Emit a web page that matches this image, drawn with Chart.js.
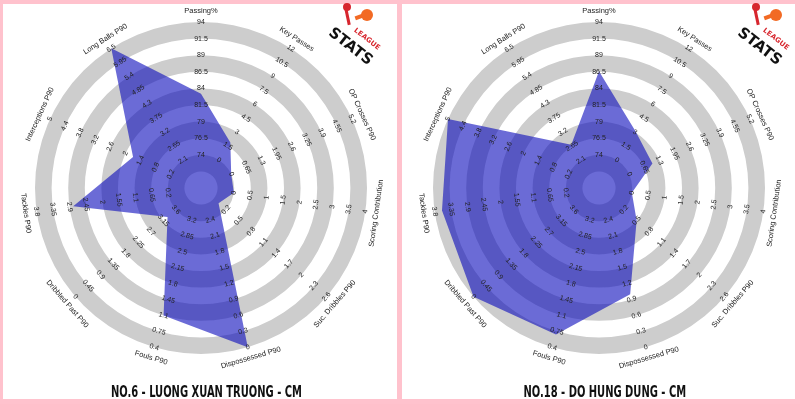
<!DOCTYPE html>
<html>
<head>
<meta charset="utf-8">
<script src="https://cdn.jsdelivr.net/npm/chart.js@4.4.1/dist/chart.umd.min.js"></script>
<style>
  body { margin: 0; width: 800px; height: 404px; background: #ffc2cd; position: relative; overflow: hidden; }
  .panel { position: absolute; top: 4px; height: 395px; background: #fff; }
  canvas { position: absolute; top: 0; }
  .title { position: absolute; top: 382px; width: 400px; text-align: center; color: #111;
           font: bold 16px 'Liberation Sans Narrow', 'DejaVu Sans Condensed', sans-serif; }
  .title span { display: inline-block; transform: scaleX(0.69); }
  .logo { position: absolute; top: 0; width: 70px; height: 70px; }
  .logo div { position: absolute; }
  .dot { left: 23px; top: 3px; width: 8px; height: 8px; border-radius: 50%; background: #d7262e; }
  .stick { left: 26px; top: 8px; width: 3px; height: 17px; background: #d7262e; transform: rotate(-12deg); }
  .ball { left: 41px; top: 9px; width: 12px; height: 12px; border-radius: 50%; background: #f26a24; }
  .tail { left: 35px; top: 15px; width: 8px; height: 4px; background: #f26a24; transform: rotate(-20deg); }
  .txt { transform: translate(-50%, -50%) rotate(38deg); white-space: nowrap; }
  .league { left: 47px; top: 39px; color: #d7262e; font: bold 7px 'DejaVu Sans', sans-serif; }
  .stats { left: 31px; top: 46px; color: #111; font: bold 15px 'DejaVu Sans', sans-serif; }
</style>
</head>
<body>
<div class="panel" style="left:3px; width:394px"></div>
<div class="panel" style="left:402px; width:393px"></div>
<canvas id="truongChart" width="400" height="404" style="left:0"></canvas>
<canvas id="dungChart" width="400" height="404" style="left:400px"></canvas>
<div class="title" style="left:6px"><span>NO.6 - LUONG XUAN TRUONG - CM</span></div>
<div class="title" style="left:405px"><span>NO.18 - DO HUNG DUNG - CM</span></div>
<div class="logo" style="left:320px"><div class="dot"></div><div class="stick"></div><div class="tail"></div><div class="ball"></div><div class="txt league">LEAGUE</div><div class="txt stats">STATS</div></div>
<div class="logo" style="left:729px"><div class="dot"></div><div class="stick"></div><div class="tail"></div><div class="ball"></div><div class="txt league">LEAGUE</div><div class="txt stats">STATS</div></div>
<script>
const params = ['Passing%', 'Key Passes', 'OP Crosses P90', 'Scoring Contribution', 'Suc. Dribbles P90',
  'Dispossessed P90', 'Fouls P90', 'Dribbled Past P90', 'Tackles P90', 'Interceptions P90', 'Long Balls P90'];

// range of each axis, inner ring -> outer ring (reversed where lower is better)
const rangeLow  = [74, 0, 0, 0, 0.2, 2.4, 3.2, 3.6, 0.2, 0.2, 2.1];
const rangeHigh = [94, 12, 5.2, 4, 2.6, 0, 0.4, 0, 3.8, 5, 6.5];

const truongValues = [83.2, 1.9, 0, 0, 0.02, 0, 1.1, 3.3, 2.8, 1.7, 6.5];
const dungValues   = [86.6, 3.1, 1.0, 0, 0.5, 1.0, 0.68, 0, 3.6, 5, 2.7];

const ringGray = '#cdcdcd';
const fillBlue = 'rgba(8, 8, 186, 0.6)';
const NUM_LABELS = 9;

// radial scale runs 0..10, range labels sit on 2..10
function toScale(v, i) {
  return 2 + 8 * (v - rangeLow[i]) / (rangeHigh[i] - rangeLow[i]);
}

function rangeLabels(i) {
  const out = [];
  for (let k = 0; k < NUM_LABELS; k++) {
    const v = rangeLow[i] + (rangeHigh[i] - rangeLow[i]) * k / (NUM_LABELS - 1);
    out.push(String(parseFloat(v.toFixed(2))));
  }
  return out;
}

const radarDecor = {
  id: 'radarDecor',
  beforeDatasetsDraw(chart) {
    const s = chart.scales.r, ctx = chart.ctx;
    ctx.save();
    ctx.fillStyle = ringGray;
    for (let v = 1; v < 10; v += 2) {
      const r0 = s.getDistanceFromCenterForValue(v);
      const r1 = s.getDistanceFromCenterForValue(v + 1);
      ctx.beginPath();
      ctx.arc(s.xCenter, s.yCenter, r1, 0, Math.PI * 2);
      ctx.arc(s.xCenter, s.yCenter, r0, 0, Math.PI * 2, true);
      ctx.fill();
    }
    ctx.restore();
  },
  afterDatasetsDraw(chart) {
    const s = chart.scales.r, ctx = chart.ctx;
    ctx.save();
    ctx.textAlign = 'center';
    ctx.textBaseline = 'middle';
    ctx.fillStyle = '#222';
    params.forEach((name, i) => {
      const a = s.getIndexAngle(i);
      const rot = (a > Math.PI / 2 && a < Math.PI * 1.5) ? a - Math.PI : a;
      ctx.font = '7px "Liberation Sans", Arial, sans-serif';
      rangeLabels(i).forEach((txt, k) => {
        const p = s.getPointPositionForValue(i, 2 + k);
        ctx.save();
        ctx.translate(p.x, p.y);
        ctx.rotate(rot);
        ctx.fillText(txt, 0, 0);
        ctx.restore();
      });
      const q = s.getPointPosition(i, s.drawingArea + 11);
      ctx.font = '7.5px "Liberation Sans", Arial, sans-serif';
      ctx.save();
      ctx.translate(q.x, q.y);
      ctx.rotate(rot);
      ctx.fillText(name, 0, 0);
      ctx.restore();
    });
    ctx.restore();
  }
};

function makeRadar(id, values, padding) {
  new Chart(document.getElementById(id), {
    type: 'radar',
    data: {
      labels: params,
      datasets: [{
        data: values.map(toScale),
        backgroundColor: fillBlue,
        borderColor: 'transparent',
        borderWidth: 0,
        pointRadius: 0,
        fill: true
      }]
    },
    options: {
      responsive: false,
      animation: false,
      events: [],
      layout: { padding: padding },
      plugins: { legend: { display: false }, tooltip: { enabled: false } },
      scales: {
        r: {
          min: 0,
          max: 10,
          ticks: { display: false, stepSize: 1 },
          grid: { display: false },
          angleLines: { display: false },
          pointLabels: { display: false }
        }
      }
    },
    plugins: [radarDecor]
  });
}

makeRadar('truongChart', truongValues, { left: 35, right: 33, top: 22, bottom: 50 });
makeRadar('dungChart', dungValues, { left: 33, right: 35, top: 22, bottom: 50 });
</script>
</body>
</html>
